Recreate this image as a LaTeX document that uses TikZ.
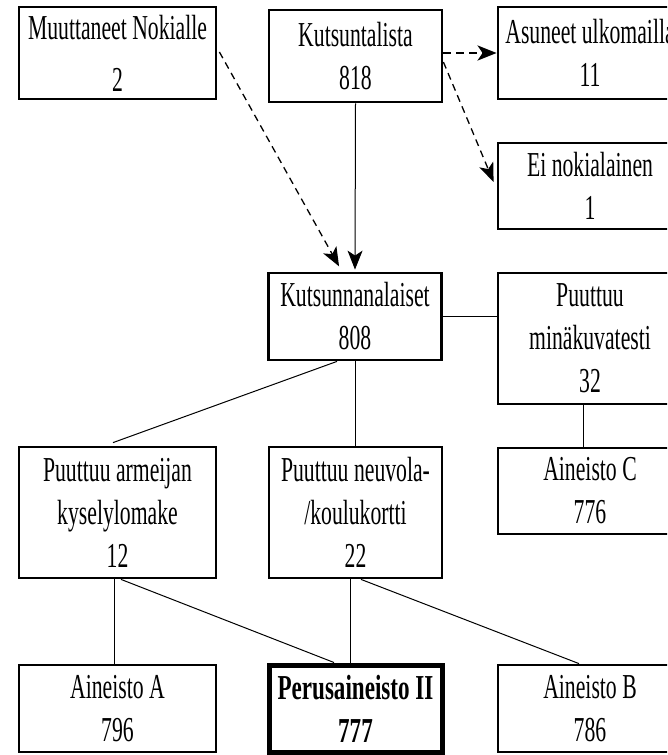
\documentclass[tikz,border=0pt]{standalone}
\usepackage{fontspec}
\setmainfont{Liberation Serif}[FakeStretch=0.62]
\newfontfamily\perusfont{Liberation Serif}[FakeStretch=0.66]
\usetikzlibrary{arrows.meta}

\begin{document}
\begin{tikzpicture}[x=1pt,y=-1pt,
  box/.style={draw, line width=2.8pt, rectangle, align=center, inner sep=0pt,
    font=\fontsize{35}{43}\selectfont},
  wide/.style={box, minimum width=197pt},
  mid/.style={box, minimum width=173pt},
  side/.style={box, minimum width=184pt},
  link/.style={line width=1pt},
  tip/.style={-{Stealth[length=19pt,width=15pt,inset=5pt]}},
  thindash/.style={line width=1.3pt, dash pattern=on 7pt off 5pt},
  thickdash/.style={line width=2.8pt, dash pattern=on 8pt off 5pt}]

\useasboundingbox (0,0) rectangle (667,755);
\clip (0,0) rectangle (667,755);

% top row
\node[wide, minimum height=92pt] (mn) at (117.5,53) {Muuttaneet Nokialle\\[9pt]2};
\node[mid,  minimum height=92pt] (kl) at (355.5,56) {Kutsuntalista\\818};
\node[side, minimum height=92pt] (as) at (590,53)   {Asuneet ulkomailla\\11};
\node[side, minimum height=86pt] (en) at (590,186)  {Ei nokialainen\\1};

% second row
\node[mid,  minimum height=87pt]  (ka) at (355,316.5) {Kutsunnanalaiset\\808};
\node[side, minimum height=131pt] (mk) at (590,338.5) {Puuttuu\\minäkuvatesti\\32};

% third row
\node[wide, minimum height=131pt] (pa) at (117.5,512.5) {Puuttuu armeijan\\kyselylomake\\12};
\node[mid,  minimum height=131pt] (pn) at (355.5,512.5) {Puuttuu neuvola-\\/koulukortti\\22};
\node[side, minimum height=86pt]  (ac) at (590,491)     {Aineisto C\\776};

% bottom row
\node[wide, minimum height=87pt] (aa) at (117.5,708.5) {Aineisto A\\796};
\node[mid,  minimum height=87pt, line width=5pt] (pe) at (355.5,708.5) {\perusfont\bfseries Perusaineisto II\\\perusfont\bfseries 777};
\node[side, minimum height=87pt] (ab) at (590,708.5) {Aineisto B\\786};

% exclusions and additions
\draw[thickdash, tip] ([yshift=3pt]kl.east) -- ([yshift=3pt]kl.east -| as.west);
\draw[thindash, tip] ([yshift=-6pt]kl.east) -- ([xshift=-3pt,yshift=4pt]en.west);
\draw[thindash, tip, shorten >=6pt] ([xshift=2pt,yshift=1pt]mn.east) -- ([xshift=-13pt]ka.north);
\draw[link, tip, shorten >=2pt] (kl.south) -- (ka.north);

% branches
\draw[link] (ka.east) -- (ka.east -| mk.west);
\draw[link] ([xshift=-18pt]ka.south) -- ([xshift=-4.5pt,yshift=3pt]pa.north);
\draw[link] (ka.south) -- (ka.south |- pn.north);
\draw[link] ([xshift=-7pt]mk.south) -- ([xshift=-7pt]ac.north);
\draw[link] ([xshift=-3.5pt]pa.south) -- ([xshift=-3.5pt]aa.north);
\draw[link] ([xshift=3.5pt]pa.south) -- ([xshift=-21.5pt]pe.north);
\draw[link] ([xshift=-5pt]pn.south) -- ([xshift=-5pt]pe.north);
\draw[link] ([xshift=5.5pt]pn.south) -- ([xshift=-11pt]ab.north);
\end{tikzpicture}
\end{document}
